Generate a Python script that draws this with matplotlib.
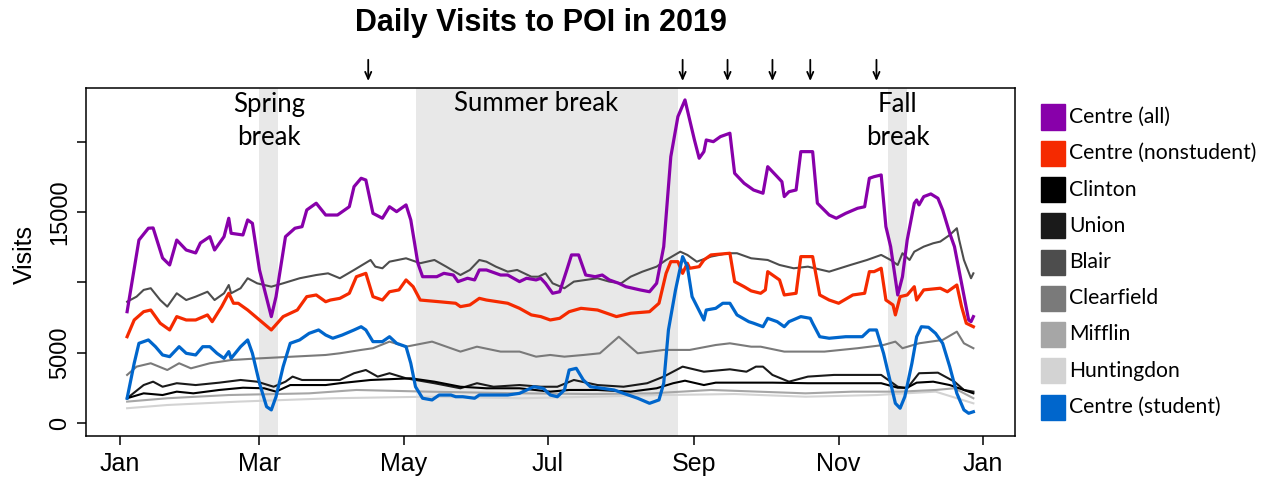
import numpy as np
import matplotlib.pyplot as plt
import matplotlib.dates as mdates
from matplotlib.patches import Rectangle

start = np.datetime64('2019-01-01')

# day-of-year offsets (Jan 1 = 0) and visit counts
all_days = [3, 8, 12, 14, 18, 21, 24, 28, 32, 34, 38, 40, 44, 46, 47, 52, 54, 56, 59, 64, 66, 70, 74, 77, 79, 83, 87, 92,
            97, 99, 102, 104, 107, 111, 114, 117, 121, 123, 126, 128, 134, 137, 141, 143, 147, 150, 152, 155, 161, 164,
            169, 172, 176, 178, 180, 183, 186, 189, 191, 194, 197, 201, 204, 207, 211, 214, 220, 224, 227, 230, 233, 236,
            239, 241, 243, 245, 247, 248, 251, 254, 258, 260, 264, 268, 272, 274, 278, 280, 281, 283, 286, 288, 293, 295,
            300, 303, 307, 312, 315, 317, 319, 322, 324, 326, 329, 331, 333, 336, 337, 338, 340, 343, 346, 348, 351, 353,
            356, 359, 360, 361]
all_vals = [7920, 13020, 13860, 13880, 11740, 11245, 13020, 12310, 12100, 12810, 13260, 12310, 13260, 14570, 13500, 13380,
            14450, 14210, 10890, 7570, 8990, 13260, 13860, 13970, 15160, 15640, 14800, 14800, 15390, 16820, 17415, 17290,
            14920, 14570, 15390, 15040, 15520, 14450, 11370, 10410, 10410, 10650, 10530, 10060, 10300, 10180, 10890, 10890,
            10530, 10530, 10060, 10300, 10180, 10300, 9940, 9230, 9340, 10890, 11960, 11960, 10530, 10410, 10530, 10180,
            9940, 9700, 9470, 9340, 9940, 12550, 18950, 21800, 22990, 21560, 20140, 18840, 19310, 20140, 20020, 20380,
            20620, 17770, 17060, 16580, 16350, 18240, 17530, 17170, 16110, 16460, 16580, 19310, 19310, 15640, 14800, 14570,
            14920, 15280, 15390, 17415, 17530, 17650, 13970, 12550, 9110, 10410, 13020, 15640, 15870, 15520, 16110, 16300,
            15990, 15160, 13500, 12550, 9940, 7330, 7210, 7570]

nonstu_days = [3, 6, 10, 13, 17, 21, 24, 28, 32, 37, 39, 43, 46, 48, 50, 54, 59, 64, 69, 75, 79, 83, 87, 89, 93, 97, 100,
               104, 107, 111, 114, 118, 121, 124, 127, 135, 142, 144, 148, 152, 155, 164, 169, 174, 178, 182, 186, 190,
               195, 202, 210, 216, 224, 228, 231, 233, 236, 238, 240, 241, 245, 247, 250, 258, 260, 264, 267, 271, 273,
               274, 279, 281, 286, 288, 293, 296, 300, 304, 310, 315, 317, 319, 322, 324, 327, 328, 330, 333, 336, 337,
               340, 347, 350, 354, 356, 358, 361]
nonstu_vals = [6140, 7330, 7920, 8040, 7100, 6620, 7570, 7330, 7330, 7690, 7210, 8280, 9230, 8520, 8520, 8040, 7330, 6620,
               7570, 8040, 8990, 9110, 8630, 8750, 8870, 9230, 10410, 10650, 8990, 8750, 9340, 9470, 10180, 9700, 8750,
               8630, 8520, 8280, 8400, 8870, 8750, 8520, 8160, 7690, 7570, 7330, 7450, 7920, 8160, 8040, 7570, 7810, 7920,
               8520, 10650, 11480, 11480, 10650, 11370, 11010, 11125, 11600, 11960, 12080, 10060, 9700, 9400, 9230, 9470,
               10770, 10180, 9110, 9230, 11840, 11840, 9110, 8750, 8520, 9110, 9230, 10770, 10770, 11010, 8750, 8400, 7690,
               8990, 9110, 9700, 8750, 9470, 9590, 9340, 9820, 8280, 7100, 6850]

stu_days = [3, 6, 8, 12, 15, 18, 21, 25, 28, 32, 35, 38, 41, 44, 46, 47, 51, 54, 56, 59, 62, 64, 66, 69, 72, 76, 80, 84,
            87, 90, 94, 99, 102, 104, 107, 111, 114, 117, 121, 123, 125, 128, 132, 135, 140, 142, 145, 150, 152, 158, 164,
            169, 175, 179, 182, 185, 188, 190, 193, 196, 199, 204, 209, 213, 219, 224, 228, 230, 232, 235, 238, 240, 242,
            247, 248, 252, 255, 258, 261, 266, 268, 272, 274, 278, 281, 283, 288, 292, 293, 296, 300, 307, 314, 317, 320,
            323, 326, 328, 330, 332, 335, 337, 339, 342, 345, 348, 351, 354, 357, 359, 361]
stu_vals = [1760, 4250, 5670, 5910, 5430, 4840, 4720, 5430, 4960, 4840, 5430, 5430, 4960, 4600, 5080, 4600, 5430, 5910,
            4960, 2830, 1160, 930, 1870, 4010, 5670, 5910, 6380, 6620, 6260, 6030, 6260, 6620, 6850, 6620, 5790, 5790,
            6140, 5670, 5430, 4250, 2580, 1760, 1640, 1990, 1990, 1870, 1870, 1760, 1990, 1990, 1990, 2110, 2580, 2470,
            1990, 1870, 2350, 3770, 3890, 3060, 2580, 2470, 2350, 2110, 1760, 1400, 1640, 2830, 6620, 9470, 11840, 11125,
            8990, 7330, 8040, 8160, 8520, 8520, 7690, 7210, 7100, 6850, 7450, 7210, 6850, 7210, 7570, 7450, 7100, 6140,
            6030, 6140, 6140, 6620, 6620, 4960, 2830, 1400, 1050, 1870, 4250, 6140, 6850, 6810, 6380, 5670, 4010, 2110,
            930, 690, 800]

blair_days = [3, 7, 10, 13, 17, 20, 24, 28, 32, 37, 40, 44, 46, 47, 51, 54, 58, 64, 69, 76, 83, 88, 93, 99, 106, 108, 111,
              114, 121, 127, 133, 138, 144, 148, 152, 155, 159, 164, 168, 174, 177, 180, 183, 188, 192, 197, 202, 207, 212,
              216, 221, 227, 231, 237, 240, 244, 250, 257, 261, 267, 274, 279, 285, 291, 300, 309, 316, 322, 326, 329, 331,
              334, 336, 340, 344, 347, 351, 354, 355, 357, 360, 361]
blair_vals = [8630, 8990, 9470, 9590, 8750, 8280, 9230, 8750, 8990, 9340, 8750, 9230, 9820, 9230, 9590, 10300, 9940, 9700,
              9940, 10300, 10530, 10650, 10300, 10890, 11600, 11125, 11010, 11480, 11720, 11370, 11600, 11125, 10530,
              10890, 11600, 11480, 11125, 10770, 10890, 10410, 10410, 10650, 9940, 9590, 10060, 10180, 10300, 10060, 9940,
              10410, 10770, 11125, 11600, 12190, 11960, 11480, 11840, 12080, 12080, 11720, 11600, 11245, 11010, 11125,
              10770, 11245, 11600, 11960, 11600, 11245, 12080, 11600, 12190, 12550, 12790, 12910, 13380, 13860, 13020,
              11600, 10300, 10650]

clear_days = [3, 7, 13, 20, 25, 30, 38, 47, 59, 73, 87, 93, 102, 107, 114, 121, 132, 144, 151, 161, 169, 176, 182, 188, 196,
              203, 211, 219, 230, 241, 252, 258, 267, 271, 281, 298, 312, 323, 328, 331, 338, 348, 354, 357, 361]
clear_vals = [3420, 4010, 4250, 3770, 4250, 3890, 4250, 4480, 4600, 4720, 4840, 4960, 5200, 5320, 5790, 5430, 5790, 5080,
              5430, 5080, 5080, 4720, 4840, 4720, 4840, 4960, 6140, 4960, 5200, 5200, 5550, 5670, 5430, 5430, 5080, 5080,
              5320, 5550, 5790, 5320, 5670, 5910, 6500, 5670, 5320]

union_days = [3, 10, 14, 18, 24, 32, 42, 51, 58, 65, 70, 73, 77, 87, 93, 99, 104, 109, 114, 121, 133, 144, 151, 158, 169,
              178, 185, 192, 202, 213, 223, 230, 238, 247, 258, 265, 269, 272, 276, 283, 291, 302, 312, 322, 329, 333, 338,
              346, 353, 357, 361]
union_vals = [1760, 2700, 2940, 2580, 2830, 2700, 2870, 3060, 2940, 2580, 2940, 3300, 3060, 3060, 3060, 3540, 3770, 3300,
              3540, 3180, 2830, 2470, 2830, 2580, 2700, 2580, 2580, 3060, 2700, 2580, 2830, 3300, 4010, 3650, 3820, 3650,
              4010, 4010, 3420, 2940, 3300, 3420, 3420, 3420, 2580, 2470, 3540, 3580, 2940, 2350, 2230]

clinton_days = [3, 10, 18, 24, 31, 42, 52, 61, 66, 72, 80, 87, 93, 106, 123, 133, 144, 155, 169, 182, 190, 202, 216, 227,
                234, 239, 247, 252, 267, 276, 291, 305, 322, 329, 333, 337, 344, 351, 357, 361]
clinton_vals = [1760, 2110, 1990, 2230, 2110, 2350, 2510, 2470, 2230, 2700, 2700, 2700, 2830, 3060, 3180, 2940, 2580, 2470,
                2470, 2230, 2350, 2350, 2230, 2470, 2830, 3010, 2700, 2870, 2870, 2870, 2830, 2830, 2830, 2510, 2510, 2870,
                2940, 2700, 2350, 2110]

mifflin_days = [3, 20, 46, 80, 100, 130, 170, 200, 225, 250, 270, 290, 310, 330, 345, 353, 361]
mifflin_vals = [1520, 1760, 1990, 2110, 2350, 2230, 2110, 2060, 2110, 2350, 2230, 2110, 2230, 2230, 2350, 2470, 1760]

hunt_days = [3, 20, 50, 90, 130, 170, 200, 230, 260, 290, 320, 345, 361]
hunt_vals = [1050, 1280, 1520, 1760, 1870, 1760, 1870, 1990, 2060, 1870, 1990, 2230, 1400]

breaks = [('2019-03-01', '2019-03-09'), ('2019-05-06', '2019-08-25'), ('2019-11-22', '2019-11-30')]
arrow_dates = ['2019-04-16', '2019-08-27', '2019-09-15', '2019-10-04', '2019-10-20', '2019-11-17']

legend_names = ['Centre (all)', 'Centre (nonstudent)', 'Clinton', 'Union', 'Blair', 'Clearfield', 'Mifflin',
                'Huntingdon', 'Centre (student)']
legend_colors = ['#8800aa', '#f52a00', '#000000', '#1a1a1a', '#4d4d4d', '#7a7a7a', '#a6a6a6', '#d3d3d3', '#0066cc']


def d(days):
    return start + np.array(days).astype('timedelta64[D]')


fig = plt.figure(figsize=(12.7, 4.8), dpi=100)
ax = fig.add_axes([0.0677, 0.0917, 0.7315, 0.725])

for b0, b1 in breaks:
    ax.axvspan(np.datetime64(b0), np.datetime64(b1), color='#e8e8e8', lw=0, zorder=0)

thin = dict(lw=1.5, solid_joinstyle='round')
thick = dict(lw=2.3, solid_joinstyle='round')
ax.plot(d(hunt_days), hunt_vals, color='#d3d3d3', **thin)
ax.plot(d(mifflin_days), mifflin_vals, color='#a6a6a6', **thin)
ax.plot(d(clear_days), clear_vals, color='#7a7a7a', **thin)
ax.plot(d(blair_days), blair_vals, color='#4d4d4d', **thin)
ax.plot(d(union_days), union_vals, color='#1a1a1a', **thin)
ax.plot(d(clinton_days), clinton_vals, color='#000000', **thin)
ax.plot(d(all_days), all_vals, color='#8800aa', **thick)
ax.plot(d(nonstu_days), nonstu_vals, color='#f52a00', **thick)
ax.plot(d(stu_days), stu_vals, color='#0066cc', **thick)

t0 = mdates.date2num(start)
ax.set_xlim(t0 - 14.4, t0 + 378.6)
ax.set_ylim(-925, 23840)

tick_font = 'Liberation Sans'
month_ticks = ['2019-01-01', '2019-03-01', '2019-05-01', '2019-07-01', '2019-09-01', '2019-11-01', '2020-01-01']
ax.set_xticks([np.datetime64(m) for m in month_ticks])
ax.set_xticklabels(['Jan', 'Mar', 'May', 'Jul', 'Sep', 'Nov', 'Jan'], fontsize=18, family=tick_font)
ax.set_yticks([0, 5000, 10000, 15000, 20000])
ax.set_yticklabels(['0', '5000', '', '15000', ''], fontsize=17, family=tick_font, rotation=90, va='center')
ax.tick_params(axis='x', direction='out', length=6.5, width=1.1, pad=5)
ax.tick_params(axis='y', direction='out', length=6.5, width=1.1, pad=4)
for s in ax.spines.values():
    s.set_linewidth(1.1)

ann_font = 'Lato'
ax.text(np.datetime64('2019-03-05'), 0.905, 'Spring\nbreak', transform=ax.get_xaxis_transform(), ha='center',
        va='center', fontsize=18.5, family=ann_font, linespacing=1.36)
ax.text(np.datetime64('2019-06-26'), 0.954, 'Summer break', transform=ax.get_xaxis_transform(), ha='center',
        va='center', fontsize=18.5, family=ann_font)
ax.text(np.datetime64('2019-11-26'), 0.905, 'Fall\nbreak', transform=ax.get_xaxis_transform(), ha='center',
        va='center', fontsize=18.5, family=ann_font, linespacing=1.36)

for a in arrow_dates:
    ax.annotate('', xy=(np.datetime64(a), 1.012), xytext=(np.datetime64(a), 1.089),
                xycoords=('data', 'axes fraction'), textcoords=('data', 'axes fraction'),
                arrowprops=dict(arrowstyle='->,head_length=0.5,head_width=0.22', lw=1.3, color='black'),
                annotation_clip=False)

fig.text(541 / 1270, 1 - 23 / 480, 'Daily Visits to POI in 2019', ha='center', va='center', fontsize=22,
         fontweight='bold', family=tick_font)
fig.text(25 / 1270, 1 - 255 / 480, 'Visits', rotation=90, ha='center', va='center', fontsize=18, family=tick_font)

for i, (name, col) in enumerate(zip(legend_names, legend_colors)):
    yc = 117 + i * 36.25
    fig.add_artist(Rectangle((1041 / 1270, 1 - (yc + 12.5) / 480), 24 / 1270, 25 / 480,
                             transform=fig.transFigure, color=col))
    fig.text(1069 / 1270, 1 - yc / 480, name, ha='left', va='center', fontsize=15.2, family=ann_font)

plt.savefig('out.png', dpi=100)
